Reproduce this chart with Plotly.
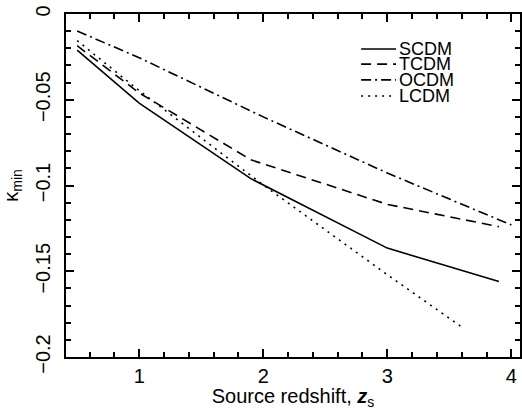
import plotly.graph_objects as go

# kappa_min against source redshift
z_scdm = [0.5, 1.0, 1.9, 3.0, 3.9]
k_scdm = [-0.021, -0.052, -0.096, -0.1365, -0.156]

z_tcdm = [0.5, 1.0, 1.9, 3.0, 3.9]
k_tcdm = [-0.0185, -0.046, -0.085, -0.111, -0.124]

z_ocdm = [0.5, 1.0, 2.0, 3.0, 4.0]
k_ocdm = [-0.0099, -0.0255, -0.060, -0.0927, -0.123]

z_lcdm = [0.5, 1.0, 2.0, 3.0, 3.6]
k_lcdm = [-0.0155, -0.0447, -0.0997, -0.152, -0.1825]

series = [
    ("SCDM", z_scdm, k_scdm, "solid"),
    ("TCDM", z_tcdm, k_tcdm, "10px,6px"),
    ("OCDM", z_ocdm, k_ocdm, "10px,4px,2px,4px"),
    ("LCDM", z_lcdm, k_lcdm, "2px,5px"),
]

fig = go.Figure()
for name, z, k, dash in series:
    fig.add_trace(
        go.Scatter(
            x=z, y=k, mode="lines", name=name, showlegend=False,
            line=dict(color="black", width=1.6, dash=dash),
        )
    )

# hand-made legend (tighter line spacing than plotly's own legend allows)
legend_y = [0.898, 0.854, 0.808, 0.761]
for (name, _, _, dash), ly in zip(series, legend_y):
    fig.add_shape(
        type="line", xref="paper", yref="paper", x0=0.650, x1=0.727, y0=ly, y1=ly,
        line=dict(color="black", width=1.6, dash=dash),
    )
    fig.add_annotation(
        xref="paper", yref="paper", x=0.729, y=ly, text=name, showarrow=False,
        xanchor="left", yanchor="middle",
        font=dict(family="Liberation Sans, Arial, sans-serif", size=18, color="black"),
    )

font = dict(family="Liberation Sans, Arial, sans-serif", size=20, color="black")
axis_common = dict(
    showgrid=False, zeroline=False, showline=True, linecolor="black", linewidth=2,
    mirror="ticks", ticks="inside", ticklen=8, tickwidth=1.5, tickcolor="black",
    tickfont=font, automargin=False,
)

fig.update_xaxes(
    range=[0.41, 4.07], tickvals=[1, 2, 3, 4], ticklabelstandoff=0,
    minor=dict(dtick=0.2, tick0=0, ticks="inside", ticklen=5, tickwidth=1.5, tickcolor="black"),
    title=dict(text="Source redshift, <b><i>z</i></b><sub>s</sub>", font=font, standoff=5),
    **axis_common,
)
fig.update_yaxes(
    range=[-0.2, 0], tickvals=[0, -0.05, -0.1, -0.15, -0.2],
    ticktext=["0", "\u22120.05", "\u22120.1", "\u22120.15", "\u22120.2"],
    tickangle=-90, ticklabelstandoff=6,
    minor=dict(dtick=0.01, tick0=0, ticks="inside", ticklen=5, tickwidth=1.5, tickcolor="black"),
    title=dict(text="\u03ba<sub>min</sub>", font=font, standoff=8),
    **axis_common,
)

fig.update_layout(
    width=522, height=410,
    margin=dict(l=66, r=2, t=14, b=53),
    paper_bgcolor="white", plot_bgcolor="white",
    font=font,
)

fig.write_html(
    "out.html",
    config={"displayModeBar": False},
    post_script="document.body.style.margin='0';",
)
